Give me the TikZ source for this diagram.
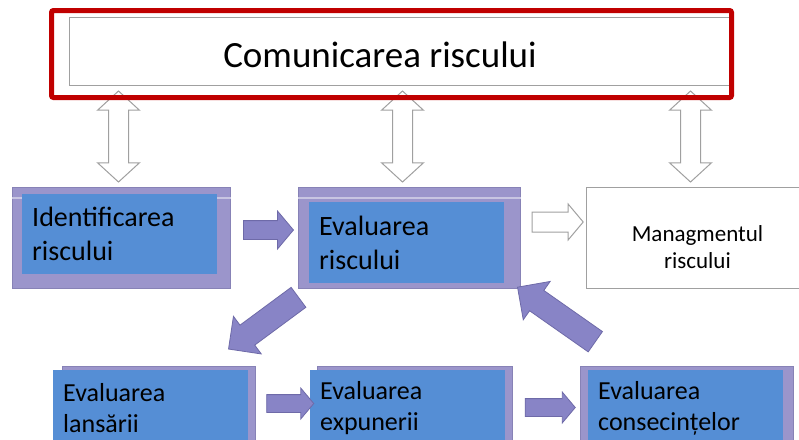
\documentclass[tikz,border=0pt]{standalone}
\usepackage{fontspec}
\setmainfont{Carlito}
\usetikzlibrary{shapes.arrows, positioning, calc}
\definecolor{boxpurple}{HTML}{9B95CB}
\definecolor{boxedge}{HTML}{8782B6}
\definecolor{boxblue}{HTML}{558ED5}
\definecolor{arrowfill}{HTML}{8884C6}
\definecolor{arrowedge}{HTML}{6E6AA8}
\definecolor{commred}{HTML}{C00000}
\definecolor{lightedge}{HTML}{A0A0A0}
\tikzset{
  outer/.style={rectangle, draw=boxedge, fill=boxpurple, line width=1pt,
    anchor=north west, inner sep=0pt, minimum height=101pt},
  inner/.style={rectangle, fill=boxblue, anchor=north west, inner xsep=10pt,
    inner ysep=4pt, align=left, minimum width=195pt, text width=175pt},
  bigtext/.style={font=\fontsize{28}{34}\selectfont},
  smalltext/.style={font=\fontsize{26}{31}\selectfont},
  plain/.style={rectangle, draw=lightedge, fill=white, line width=1pt,
    anchor=north west, inner sep=0pt},
  fatarrow/.style={single arrow, draw=arrowedge, fill=arrowfill, line width=0.8pt,
    inner xsep=0pt, sloped, allow upside down},
  hollowarrow/.style={single arrow, draw=lightedge, fill=white, line width=1pt,
    inner xsep=0pt, sloped, allow upside down},
  vlink/.style={double arrow, draw=lightedge, fill=white, line width=1pt,
    inner xsep=0pt, inner ysep=9.5pt, double arrow head extend=11pt,
    double arrow tip angle=95, minimum height=91pt, sloped},
}

\begin{document}
\begin{tikzpicture}[x=1pt, y=-1pt]
        \path[use as bounding box, clip] (0,0) rectangle (799,439);
        \fill[white] (0,0) rectangle (799,439);

        % top box
        \node[plain, minimum width=661pt, minimum height=68pt] (commBox) at (69,17) {};
        \node[font=\fontsize{37}{44}\selectfont] (comm) at (380,55) {Comunicarea riscului};

        % boxes
        \node[outer, minimum width=218pt] (idOuter) at (12,187) {};
        \node[outer, minimum width=222pt] (evOuter) at (298,187) {};
        \node[plain, minimum width=222pt, minimum height=101pt,
              label={[yshift=-9pt, align=center, font=\fontsize{23}{27}\selectfont]center:Managmentul\\riscului}] (mg) at (586,187) {};
        \node[outer, minimum width=193pt] (lnOuter) at (62,366) {};
        \node[outer, minimum width=195pt] (exOuter) at (317,366) {};
        \node[outer, minimum width=213pt] (csOuter) at (580,366) {};
        \foreach \b in {idOuter, evOuter}
          \draw[white!45!boxpurple, line width=1.5pt]
            ([yshift=-11pt]\b.north west) -- ([yshift=-11pt]\b.north east);

        \node[inner, bigtext, minimum height=80pt] (id) at (22,194) {Identificarea\\riscului};
        \node[inner, bigtext, minimum height=81pt] (ev) at (309,202) {Evaluarea\\riscului};
        \node[inner, smalltext, minimum height=76pt] (ln) at (53,370) {Evaluarea\\lansării};
        \node[inner, smalltext, minimum height=76pt] (ex) at (310,370) {Evaluarea\\expunerii};
        \node[inner, smalltext, minimum height=76pt] (cs) at (588,370) {Evaluarea\\consecințelor};

        % arrows
        \foreach \b/\dx in {idOuter/-3, evOuter/-7, mg/-7}
          \path ($(\b.north |- commBox.south)+(\dx,0)$) -- node[vlink] {} ($(\b.north)+(\dx,0)$);

        \path ([yshift=8pt]idOuter.east) -- node[fatarrow, minimum height=50pt, inner ysep=9pt,
              single arrow head extend=9.5pt, single arrow tip angle=100] {} ([yshift=8pt]evOuter.west);
        \path ([yshift=16pt]evOuter.east) -- node[hollowarrow, minimum height=51pt, inner ysep=9.5pt,
              single arrow head extend=8pt, single arrow tip angle=100] {} ([yshift=16pt]mg.west);
        \path ([yshift=13.5pt]lnOuter.east) -- node[fatarrow, minimum height=47pt, inner ysep=8.5pt,
              single arrow head extend=6.5pt, single arrow tip angle=100] {} ([yshift=13.5pt]exOuter.west);
        \path ([yshift=9.5pt]exOuter.east) -- node[fatarrow, minimum height=50pt, inner ysep=8.5pt,
              single arrow head extend=6.5pt, single arrow tip angle=100] {} ([yshift=9.5pt]csOuter.west);
        \path ([shift={(5,5)}]evOuter.south west) -- node[fatarrow, minimum height=87pt, inner ysep=12pt,
              single arrow head extend=11pt, single arrow tip angle=90] {} ([shift={(-22,-21)}]lnOuter.north east);
        \path ([shift={(20,-21)}]csOuter.north west) -- node[fatarrow, minimum height=95pt, inner ysep=12pt,
              single arrow head extend=11pt, single arrow tip angle=90] {} ([shift={(2,2)}]evOuter.south east);

        % frame
        \node[draw=commred, line width=5pt, rounded corners=2pt, inner sep=0pt, anchor=north west,
              minimum width=680pt, minimum height=87pt] (frame) at (49,8) {};
\end{tikzpicture}
\end{document}
